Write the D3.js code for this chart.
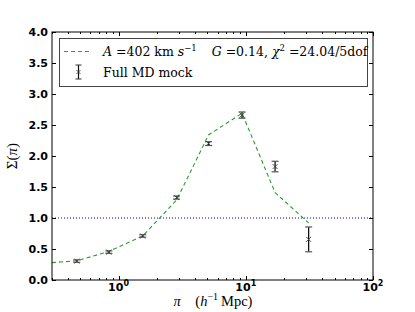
<!DOCTYPE html>
<html>
<head>
<meta charset="utf-8">
<script src="https://cdn.jsdelivr.net/npm/d3@7"></script>
<style>
  html, body { margin: 0; padding: 0; background: #fff; }
  svg { display: block; }
</style>
</head>
<body>
<svg id="chart" width="415" height="312"></svg>
<script>
// ---- data ----
const piBins   = [0.47, 0.84, 1.55, 2.86, 5.1, 9.35, 17.0, 31.2];
const sigmaObs = [0.305, 0.45, 0.71, 1.33, 2.20, 2.66, 1.83, 0.655];
const sigmaErr = [0.02, 0.02, 0.02, 0.025, 0.03, 0.05, 0.085, 0.20];
const modelPi    = [0.3, 0.47, 0.84, 1.55, 2.86, 5.1, 9.35, 17.0, 31.2];
const modelSigma = [0.28, 0.31, 0.46, 0.71, 1.29, 2.34, 2.69, 1.41, 0.92];
const yTicks = [0.0, 0.5, 1.0, 1.5, 2.0, 2.5, 3.0, 3.5, 4.0];
const xMajorTicks = [1, 10, 100];
const xTickExp = ["0", "1", "2"];
const refLevel = [1.0];

// ---- layout ----
const m = { left: 52, right: 373, top: 32, bottom: 280 };
const svg = d3.select("#chart");

const x = d3.scaleLog().domain([0.3, 100]).range([m.left, m.right]);
const y = d3.scaleLinear().domain([0, 4]).range([m.bottom, m.top]);

svg.append("defs").append("clipPath").attr("id", "clip")
  .append("rect").attr("x", m.left).attr("y", m.top)
  .attr("width", m.right - m.left).attr("height", m.bottom - m.top);

// reference line at 1.0
svg.append("g").attr("clip-path", "url(#clip)")
  .selectAll("line").data(refLevel).join("line")
  .attr("x1", m.left).attr("x2", m.right)
  .attr("y1", d => y(d)).attr("y2", d => y(d))
  .attr("stroke", "#0000ff").attr("stroke-width", 1)
  .attr("stroke-dasharray", "1,2");

// model line
const modelData = modelPi.map((p, i) => [p, modelSigma[i]]);
svg.append("path").attr("clip-path", "url(#clip)")
  .datum(modelData)
  .attr("d", d3.line().x(d => x(d[0])).y(d => y(d[1])))
  .attr("fill", "none").attr("stroke", "#2a9d2a").attr("stroke-width", 1.1)
  .attr("stroke-dasharray", "4,3");

// error bars
const obs = piBins.map((p, i) => ({ p, s: sigmaObs[i], e: sigmaErr[i] }));
const eg = svg.append("g").attr("clip-path", "url(#clip)");
const capW = 3.5;
obs.forEach(d => {
  const cx = x(d.p);
  eg.append("line").attr("x1", cx).attr("x2", cx)
    .attr("y1", y(d.s - d.e)).attr("y2", y(d.s + d.e))
    .attr("stroke", "#111").attr("stroke-width", 1.3);
  [d.s - d.e, d.s + d.e].forEach(v => {
    eg.append("line").attr("x1", cx - capW).attr("x2", cx + capW)
      .attr("y1", y(v)).attr("y2", y(v))
      .attr("stroke", "#555").attr("stroke-width", 1.2);
  });
  const cy = y(d.s), r = 2.5;
  eg.append("path")
    .attr("d", `M${cx - r},${cy - r}L${cx + r},${cy + r}M${cx - r},${cy + r}L${cx + r},${cy - r}`)
    .attr("stroke", "#444").attr("stroke-width", 0.9).attr("fill", "none");
});

// axes frame
svg.append("rect").attr("x", m.left).attr("y", m.top)
  .attr("width", m.right - m.left).attr("height", m.bottom - m.top)
  .attr("fill", "none").attr("stroke", "#000").attr("stroke-width", 1);

// y ticks (inside, both sides)
const yt = svg.append("g");
yTicks.forEach(v => {
  const yy = Math.round(y(v)) + 0.5;
  yt.append("line").attr("x1", m.left).attr("x2", m.left + 4).attr("y1", yy).attr("y2", yy).attr("stroke", "#000");
  yt.append("line").attr("x1", m.right - 4).attr("x2", m.right).attr("y1", yy).attr("y2", yy).attr("stroke", "#000");
  yt.append("text").attr("x", m.left - 4).attr("y", y(v) + 4)
    .attr("text-anchor", "end")
    .attr("font-family", "DejaVu Sans").attr("font-weight", "bold").attr("font-size", 11)
    .text(v.toFixed(1));
});

// x ticks (log major and minor, inside, top and bottom)
const xt = svg.append("g");
const minor = [];
[0.1, 1, 10].forEach(dec => { for (let k = 2; k <= 9; k++) { const v = dec * k; if (v >= 0.3 && v <= 100) minor.push(v); } });
minor.forEach(v => {
  const xx = Math.round(x(v)) + 0.5;
  xt.append("line").attr("x1", xx).attr("x2", xx).attr("y1", m.bottom).attr("y2", m.bottom - 2).attr("stroke", "#000");
  xt.append("line").attr("x1", xx).attr("x2", xx).attr("y1", m.top).attr("y2", m.top + 2).attr("stroke", "#000");
});
xMajorTicks.forEach((v, i) => {
  const xx = Math.round(x(v)) + 0.5;
  xt.append("line").attr("x1", xx).attr("x2", xx).attr("y1", m.bottom).attr("y2", m.bottom - 4).attr("stroke", "#000");
  xt.append("line").attr("x1", xx).attr("x2", xx).attr("y1", m.top).attr("y2", m.top + 4).attr("stroke", "#000");
  const t = xt.append("text").attr("x", x(v)).attr("y", 290.5)
    .attr("text-anchor", "middle")
    .attr("font-family", "DejaVu Sans").attr("font-weight", "bold").attr("font-size", 11);
  t.append("tspan").text("10");
  t.append("tspan").attr("dy", -5).attr("font-size", 8).text(xTickExp[i]);
});

// axis labels
const xl = svg.append("text").attr("x", 213).attr("y", 306).attr("text-anchor", "middle")
  .attr("font-family", "Liberation Serif").attr("font-size", 14.5);
xl.append("tspan").attr("font-style", "italic").text("π");
xl.append("tspan").text("\u2003(");
xl.append("tspan").attr("font-style", "italic").text("h");
xl.append("tspan").attr("dy", -6).attr("font-size", 10).text("−1");
xl.append("tspan").attr("dy", 6).text("\u2009Mpc)");

const yl = svg.append("text").attr("transform", "translate(17,156) rotate(-90)")
  .attr("text-anchor", "middle").attr("font-family", "Liberation Serif").attr("font-size", 15);
yl.append("tspan").text("Σ(");
yl.append("tspan").attr("font-style", "italic").text("π");
yl.append("tspan").text(")");

// legend
const lg = svg.append("g");
const legFont = "DejaVu Serif", legSize = 12.5;
lg.append("rect").attr("x", 59.5).attr("y", 38.5).attr("width", 308).attr("height", 48)
  .attr("fill", "#fff").attr("stroke", "#444").attr("stroke-width", 1);
lg.append("line").attr("x1", 64).attr("x2", 92).attr("y1", 51.5).attr("y2", 51.5)
  .attr("stroke", "#2a9d2a").attr("stroke-width", 1.1).attr("stroke-dasharray", "4,3");
const t1 = lg.append("text").attr("x", 103).attr("y", 56)
  .attr("font-family", legFont).attr("font-size", legSize);
t1.append("tspan").attr("font-style", "italic").text("A");
t1.append("tspan").text(" =402 km ");
t1.append("tspan").attr("font-style", "italic").text("s");
t1.append("tspan").attr("dy", -5).attr("font-size", 8.5).text("−1");
t1.append("tspan").attr("dy", 5).text("\u2003\u2009");
t1.append("tspan").attr("font-style", "italic").text("G");
t1.append("tspan").text(" =0.14, ");
t1.append("tspan").attr("font-style", "italic").text("χ");
t1.append("tspan").attr("dy", -5).attr("font-size", 8.5).text("2");
t1.append("tspan").attr("dy", 5).text(" =24.04/5dof");
// legend errorbar sample
lg.append("line").attr("x1", 78.5).attr("x2", 78.5).attr("y1", 65).attr("y2", 79).attr("stroke", "#111").attr("stroke-width", 1.2);
[65, 79].forEach(v => lg.append("line").attr("x1", 75.5).attr("x2", 81.5).attr("y1", v).attr("y2", v).attr("stroke", "#333"));
lg.append("path").attr("d", "M76.5,70L80.5,74M76.5,74L80.5,70").attr("stroke", "#444").attr("stroke-width", 0.9);
lg.append("text").attr("x", 103).attr("y", 77).attr("font-family", legFont).attr("font-size", legSize)
  .text("Full MD mock");
</script>
</body>
</html>
